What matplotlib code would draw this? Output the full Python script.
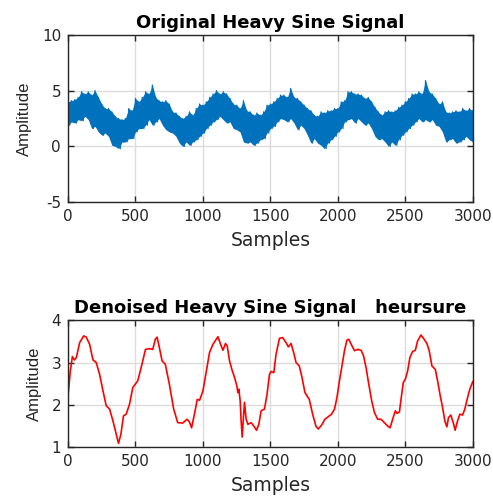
import numpy as np
import matplotlib
matplotlib.use('Agg')
import matplotlib.pyplot as plt

plt.rcParams['font.family'] = ['DejaVu Sans']
plt.rcParams['axes.unicode_minus'] = False

# noisy signal, read as upper / lower envelope every 25 samples
noisy_x = list(range(0, 3001, 25))
noisy_hi = [4.0, 4.1, 4.2, 4.4, 4.9, 4.7, 4.9, 4.6, 5.0, 4.4,
            3.8, 3.4, 3.4, 3.1, 2.7, 2.5, 2.4, 2.5, 3.4, 3.2,
            4.3, 4.0, 4.4, 4.9, 4.7, 5.5, 4.4, 4.1, 4.0, 4.1,
            3.8, 3.1, 3.0, 2.7, 2.5, 2.7, 3.1, 2.8, 3.4, 3.8,
            3.7, 4.0, 4.4, 4.7, 5.0, 4.7, 4.9, 4.7, 4.3, 3.8,
            3.7, 3.4, 4.1, 3.2, 3.1, 2.8, 3.0, 2.8, 3.1, 3.7,
            3.8, 4.0, 4.3, 4.6, 4.6, 4.4, 5.2, 4.4, 4.3, 4.0,
            3.7, 3.4, 3.2, 2.8, 2.7, 3.1, 3.0, 3.2, 3.2, 3.4,
            3.4, 4.0, 4.1, 4.9, 4.9, 4.7, 4.7, 4.6, 4.3, 4.4,
            4.0, 3.5, 3.1, 2.8, 3.1, 3.2, 3.1, 3.2, 3.5, 3.7,
            4.0, 4.3, 4.7, 4.7, 4.9, 4.7, 5.9, 4.9, 4.7, 4.3,
            3.8, 4.0, 3.1, 3.0, 3.1, 3.2, 3.1, 3.4, 3.2, 3.4,
            3.2]
noisy_lo = [1.9, 2.2, 2.1, 2.4, 2.3, 2.7, 2.4, 1.6, 1.8, 1.3,
            1.0, 1.2, 0.9, 0.1, 0.0, -0.2, 0.4, 0.4, 0.7, 0.7,
            1.3, 1.6, 1.6, 1.9, 2.4, 1.9, 2.2, 2.5, 1.9, 1.5,
            1.3, 1.2, 0.9, 0.3, 0.0, 0.4, 0.1, 0.4, 0.6, 0.9,
            1.2, 1.6, 1.9, 2.2, 2.4, 2.7, 2.4, 2.1, 2.2, 1.6,
            1.5, 1.3, 0.4, 0.3, 0.4, 0.1, 0.3, 0.6, 0.7, 1.2,
            1.6, 1.8, 2.2, 2.5, 2.4, 2.2, 2.5, 2.1, 1.5, 1.9,
            1.6, 1.0, 0.3, 0.7, 0.3, 0.1, -0.2, 0.3, 0.6, 0.9,
            1.3, 1.6, 2.2, 2.4, 2.5, 2.1, 2.5, 2.2, 1.9, 2.1,
            1.6, 0.9, 0.6, 0.7, 0.4, 0.0, 0.4, 0.1, 0.6, 1.0,
            1.3, 1.6, 1.9, 2.2, 2.5, 2.2, 2.4, 2.2, 2.4, 1.9,
            1.8, 1.3, 0.4, 0.6, 0.7, 0.3, 0.4, 0.6, 0.9, 0.6,
            0.4]

# denoised signal
den_x = [0, 17, 32, 47, 62, 86, 116, 135, 160, 185, 209, 234, 259, 283, 308,
         333, 357, 374, 392, 411, 431, 456, 480, 517, 542, 574, 603, 628, 647,
         660, 672, 697, 721, 751, 783, 813, 850, 882, 899, 916, 938, 958, 975,
         1000, 1025, 1049, 1074, 1099, 1111, 1131, 1148, 1167, 1180, 1197, 1214,
         1234, 1251, 1259, 1266, 1276, 1283, 1291, 1300, 1308, 1320, 1333, 1357,
         1377, 1397, 1414, 1431, 1456, 1475, 1493, 1505, 1525, 1542, 1567, 1591,
         1616, 1633, 1653, 1672, 1690, 1714, 1734, 1756, 1788, 1813, 1837, 1855,
         1879, 1904, 1929, 1953, 1975, 1993, 2012, 2032, 2049, 2067, 2081, 2099,
         2123, 2148, 2172, 2190, 2209, 2229, 2251, 2271, 2295, 2320, 2345, 2369,
         2387, 2406, 2426, 2438, 2456, 2468, 2485, 2500, 2517, 2534, 2554, 2574,
         2591, 2616, 2635, 2660, 2677, 2697, 2722, 2739, 2759, 2776, 2793, 2808,
         2820, 2837, 2855, 2869, 2887, 2904, 2924, 2941, 2961, 2978, 3000]
den_y = [2.21, 2.8, 3.14, 3.06, 3.12, 3.47, 3.63, 3.6, 3.43, 3.06, 3.0, 2.72, 2.33,
         1.98, 1.9, 1.62, 1.31, 1.09, 1.31, 1.74, 1.78, 2.02, 2.41, 2.57, 2.88,
         3.31, 3.33, 3.31, 3.55, 3.6, 3.43, 3.04, 2.96, 2.49, 1.9, 1.58, 1.57,
         1.66, 1.6, 1.46, 1.8, 2.13, 2.11, 2.33, 2.8, 3.24, 3.43, 3.55, 3.61,
         3.43, 3.29, 3.45, 3.39, 3.04, 2.84, 2.65, 2.45, 2.29, 2.37, 2.09, 1.62,
         1.24, 1.7, 2.06, 1.66, 1.54, 1.58, 1.5, 1.4, 1.54, 1.86, 1.9, 2.25, 2.72,
         2.79, 2.76, 3.2, 3.57, 3.59, 3.47, 3.37, 3.45, 3.24, 3.0, 2.92, 2.65,
         2.29, 2.13, 1.78, 1.5, 1.43, 1.52, 1.66, 1.72, 1.78, 1.9, 2.17, 2.57,
         2.96, 3.28, 3.53, 3.55, 3.43, 3.28, 3.31, 3.29, 3.16, 2.88, 2.49, 2.09,
         1.82, 1.66, 1.66, 1.58, 1.5, 1.46, 1.66, 1.86, 1.8, 1.83, 2.13, 2.53,
         2.61, 2.8, 3.12, 3.26, 3.29, 3.51, 3.65, 3.57, 3.45, 3.28, 2.92, 2.84,
         2.57, 2.21, 1.94, 1.62, 1.48, 1.7, 1.76, 1.58, 1.4, 1.62, 1.78, 1.76,
         1.9, 2.17, 2.37, 2.55]

x_ticks = [0, 500, 1000, 1500, 2000, 2500, 3000]
top_yticks = [-5, 0, 5, 10]
bot_yticks = [1, 2, 3, 4]

blue = '#0072BD'
spine = '#262626'

fig = plt.figure(figsize=(4.93, 4.98), dpi=100)
ax1 = fig.add_axes([0.138, 0.594, 0.821, 0.336])
ax2 = fig.add_axes([0.138, 0.102, 0.821, 0.255])


def style(ax):
    ax.grid(True, color='#dcdcdc', linewidth=1.0)
    ax.set_axisbelow(True)
    ax.tick_params(direction='in', length=4, width=1, colors=spine,
                   labelsize=11, top=True, right=True, pad=5)
    for s in ax.spines.values():
        s.set_color(spine)
        s.set_linewidth(1.0)
    ax.set_xticks(x_ticks)
    ax.set_xlim(0, 3000)
    ax.set_xlabel('Samples', fontsize=13.5, color=spine, labelpad=5)
    ax.set_ylabel('Amplitude', fontsize=12, color=spine, labelpad=7,
                  family='Liberation Sans')


# top: original noisy signal - filled band plus zigzag between read values
zig_x = []
zig_y = []
for xv, hv, lv in zip(noisy_x, noisy_hi, noisy_lo):
    zig_x += [xv, xv + 12.5]
    zig_y += [hv, lv]
ax1.fill_between(noisy_x, noisy_lo, noisy_hi, color=blue, linewidth=0)
ax1.plot(zig_x[:-1], zig_y[:-1], color=blue, linewidth=0.9)
ax1.set_ylim(-5, 10)
ax1.set_yticks(top_yticks)
style(ax1)
ax1.set_title('Original Heavy Sine Signal', fontsize=13, fontweight='bold', pad=5)

# bottom: denoised signal
ax2.plot(den_x, den_y, color='r', linewidth=1.2)
ax2.set_ylim(1, 4)
ax2.set_yticks(bot_yticks)
style(ax2)
ax2.set_title('Denoised Heavy Sine Signal   heursure', fontsize=13,
              fontweight='bold', pad=5)

fig.savefig('out.png', dpi=100)
